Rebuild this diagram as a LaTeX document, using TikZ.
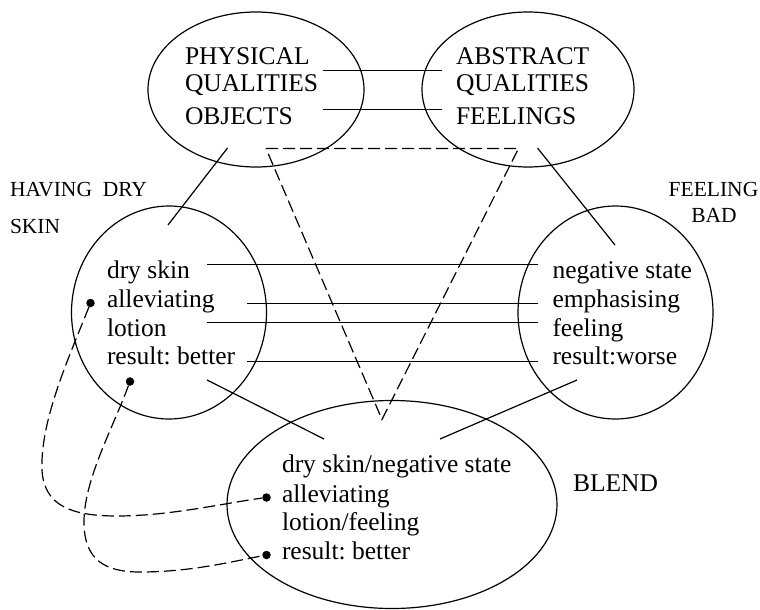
\documentclass[tikz,border=0pt]{standalone}
\usepackage{fontspec}
\setmainfont{Liberation Serif}
\usetikzlibrary{shapes.geometric}
\frenchspacing
\begin{document}
\begin{tikzpicture}[x=1pt,y=-1pt,
  every node/.style={inner sep=0pt, outer sep=0pt},
  space/.style={draw, ellipse, line width=1.2pt},
  item/.style={anchor=base west, font=\fontsize{25.5}{30}\selectfont},
  tag/.style={font=\fontsize{21.5}{26}\selectfont},
  link/.style={line width=1.2pt},
  mapdash/.style={line width=1.2pt, dash pattern=on 12pt off 5pt},
  dot/.style={circle, fill, minimum size=8.5pt}]
\useasboundingbox (0,0) rectangle (760,610);

% mental spaces
\node[space, minimum width=216pt, minimum height=155pt] (phys) at (256,89.5) {};
\node[space, minimum width=212pt, minimum height=155pt] (abst) at (528,89.5) {};
\node[space, minimum width=195pt, minimum height=213pt] (dry) at (169,312.5) {};
\node[space, minimum width=195pt, minimum height=213pt] (bad) at (615.5,312.5) {};
\node[space, minimum width=330pt, minimum height=208pt] (blend) at (392,504.5) {};

% generic spaces
\node[item] (pq1) at (185,64) {PHYSICAL};
\node[item] (pq2) at (185,91.5) {QUALITIES};
\node[item] (pq3) at (185,124) {OBJECTS};
\node[item] (aq1) at (456,64) {ABSTRACT};
\node[item] (aq2) at (456,91.5) {QUALITIES};
\node[item] (aq3) at (456,124) {FEELINGS};

% input space: dry skin
\node[item] (ds1) at (107,278.5) {dry skin};
\node[item] (ds2) at (107,307.5) {alleviating};
\node[item] (ds3) at (107,336) {lotion};
\node[item] (ds4) at (107,364) {result: better};

% input space: feeling bad
\node[item] (fb1) at (552.5,278.5) {negative state};
\node[item] (fb2) at (552.5,307.5) {emphasising};
\node[item] (fb3) at (552.5,336) {feeling};
\node[item] (fb4) at (552.5,364) {result:worse};

% blended space
\node[item] (bl1) at (282,472) {dry skin/negative state};
\node[item] (bl2) at (282,502) {alleviating};
\node[item] (bl3) at (282,530) {lotion/feeling};
\node[item] (bl4) at (282,559.5) {result: better};

% space labels
\node[tag, anchor=base west] (lhave) at (10,196) {HAVING\ \ DRY};
\node[tag, anchor=base west] (lskin) at (10,233) {SKIN};
\node[tag, anchor=base] (lfeel) at (713.5,196) {FEELING};
\node[tag, anchor=base] (lbad) at (714,222) {BAD};
\node[item] (lblend) at (573,491) {BLEND};

% dots marking projected elements
\node[dot] (d1) at (90.5,303) {};
\node[dot] (d2) at (130,381.5) {};
\node[dot] (b1) at (266.5,497.5) {};
\node[dot] (b2) at (266.5,555) {};

% end points of the cross-space links
\coordinate (g1a) at (323,70.5);  \coordinate (g1b) at (442,70.5);
\coordinate (g2a) at (323,109.5); \coordinate (g2b) at (442,109.5);
\coordinate (h1a) at (207,264.5); \coordinate (h1b) at (538,264.5);
\coordinate (h2a) at (247,303.5); \coordinate (h2b) at (538,303.5);
\coordinate (h3a) at (207,322.5); \coordinate (h3b) at (538,322.5);
\coordinate (h4a) at (247,361.5); \coordinate (h4b) at (538,361.5);
\coordinate (pa) at (227.5,148);  \coordinate (pb) at (168,225);
\coordinate (qa) at (537.5,148);  \coordinate (qb) at (615,245);
\coordinate (ra) at (207,380);    \coordinate (rb) at (324,439);
\coordinate (sa) at (577,380);    \coordinate (sb) at (440,439);
\coordinate (tl) at (266,148.5);  \coordinate (tr) at (518.5,148.5);
\coordinate (tb) at (382,419.5);

% counterpart connectors
\draw[link] (g1a) -- (g1b);
\draw[link] (g2a) -- (g2b);
\draw[link] (h1a) -- (h1b);
\draw[link] (h2a) -- (h2b);
\draw[link] (h3a) -- (h3b);
\draw[link] (h4a) -- (h4b);

% projections between spaces
\draw[link] (pa) -- (pb);
\draw[link] (qa) -- (qb);
\draw[link] (ra) -- (rb);
\draw[link] (sa) -- (sb);

% generic structure triangle
\draw[mapdash, line join=miter] (tl) -- (tr) -- (tb) -- cycle;

% selective projection into the blend
\draw[mapdash] (d1) .. controls (70,355) and (40,420) .. (42,470)
  .. controls (44,505) and (70,516) .. (117,516)
  .. controls (170,516) and (225,503) .. (b1);
\draw[mapdash] (d2) .. controls (112,430) and (84,480) .. (84,522)
  .. controls (84,560) and (105,572) .. (140,572)
  .. controls (190,572) and (230,562) .. (b2);
\end{tikzpicture}
\end{document}
